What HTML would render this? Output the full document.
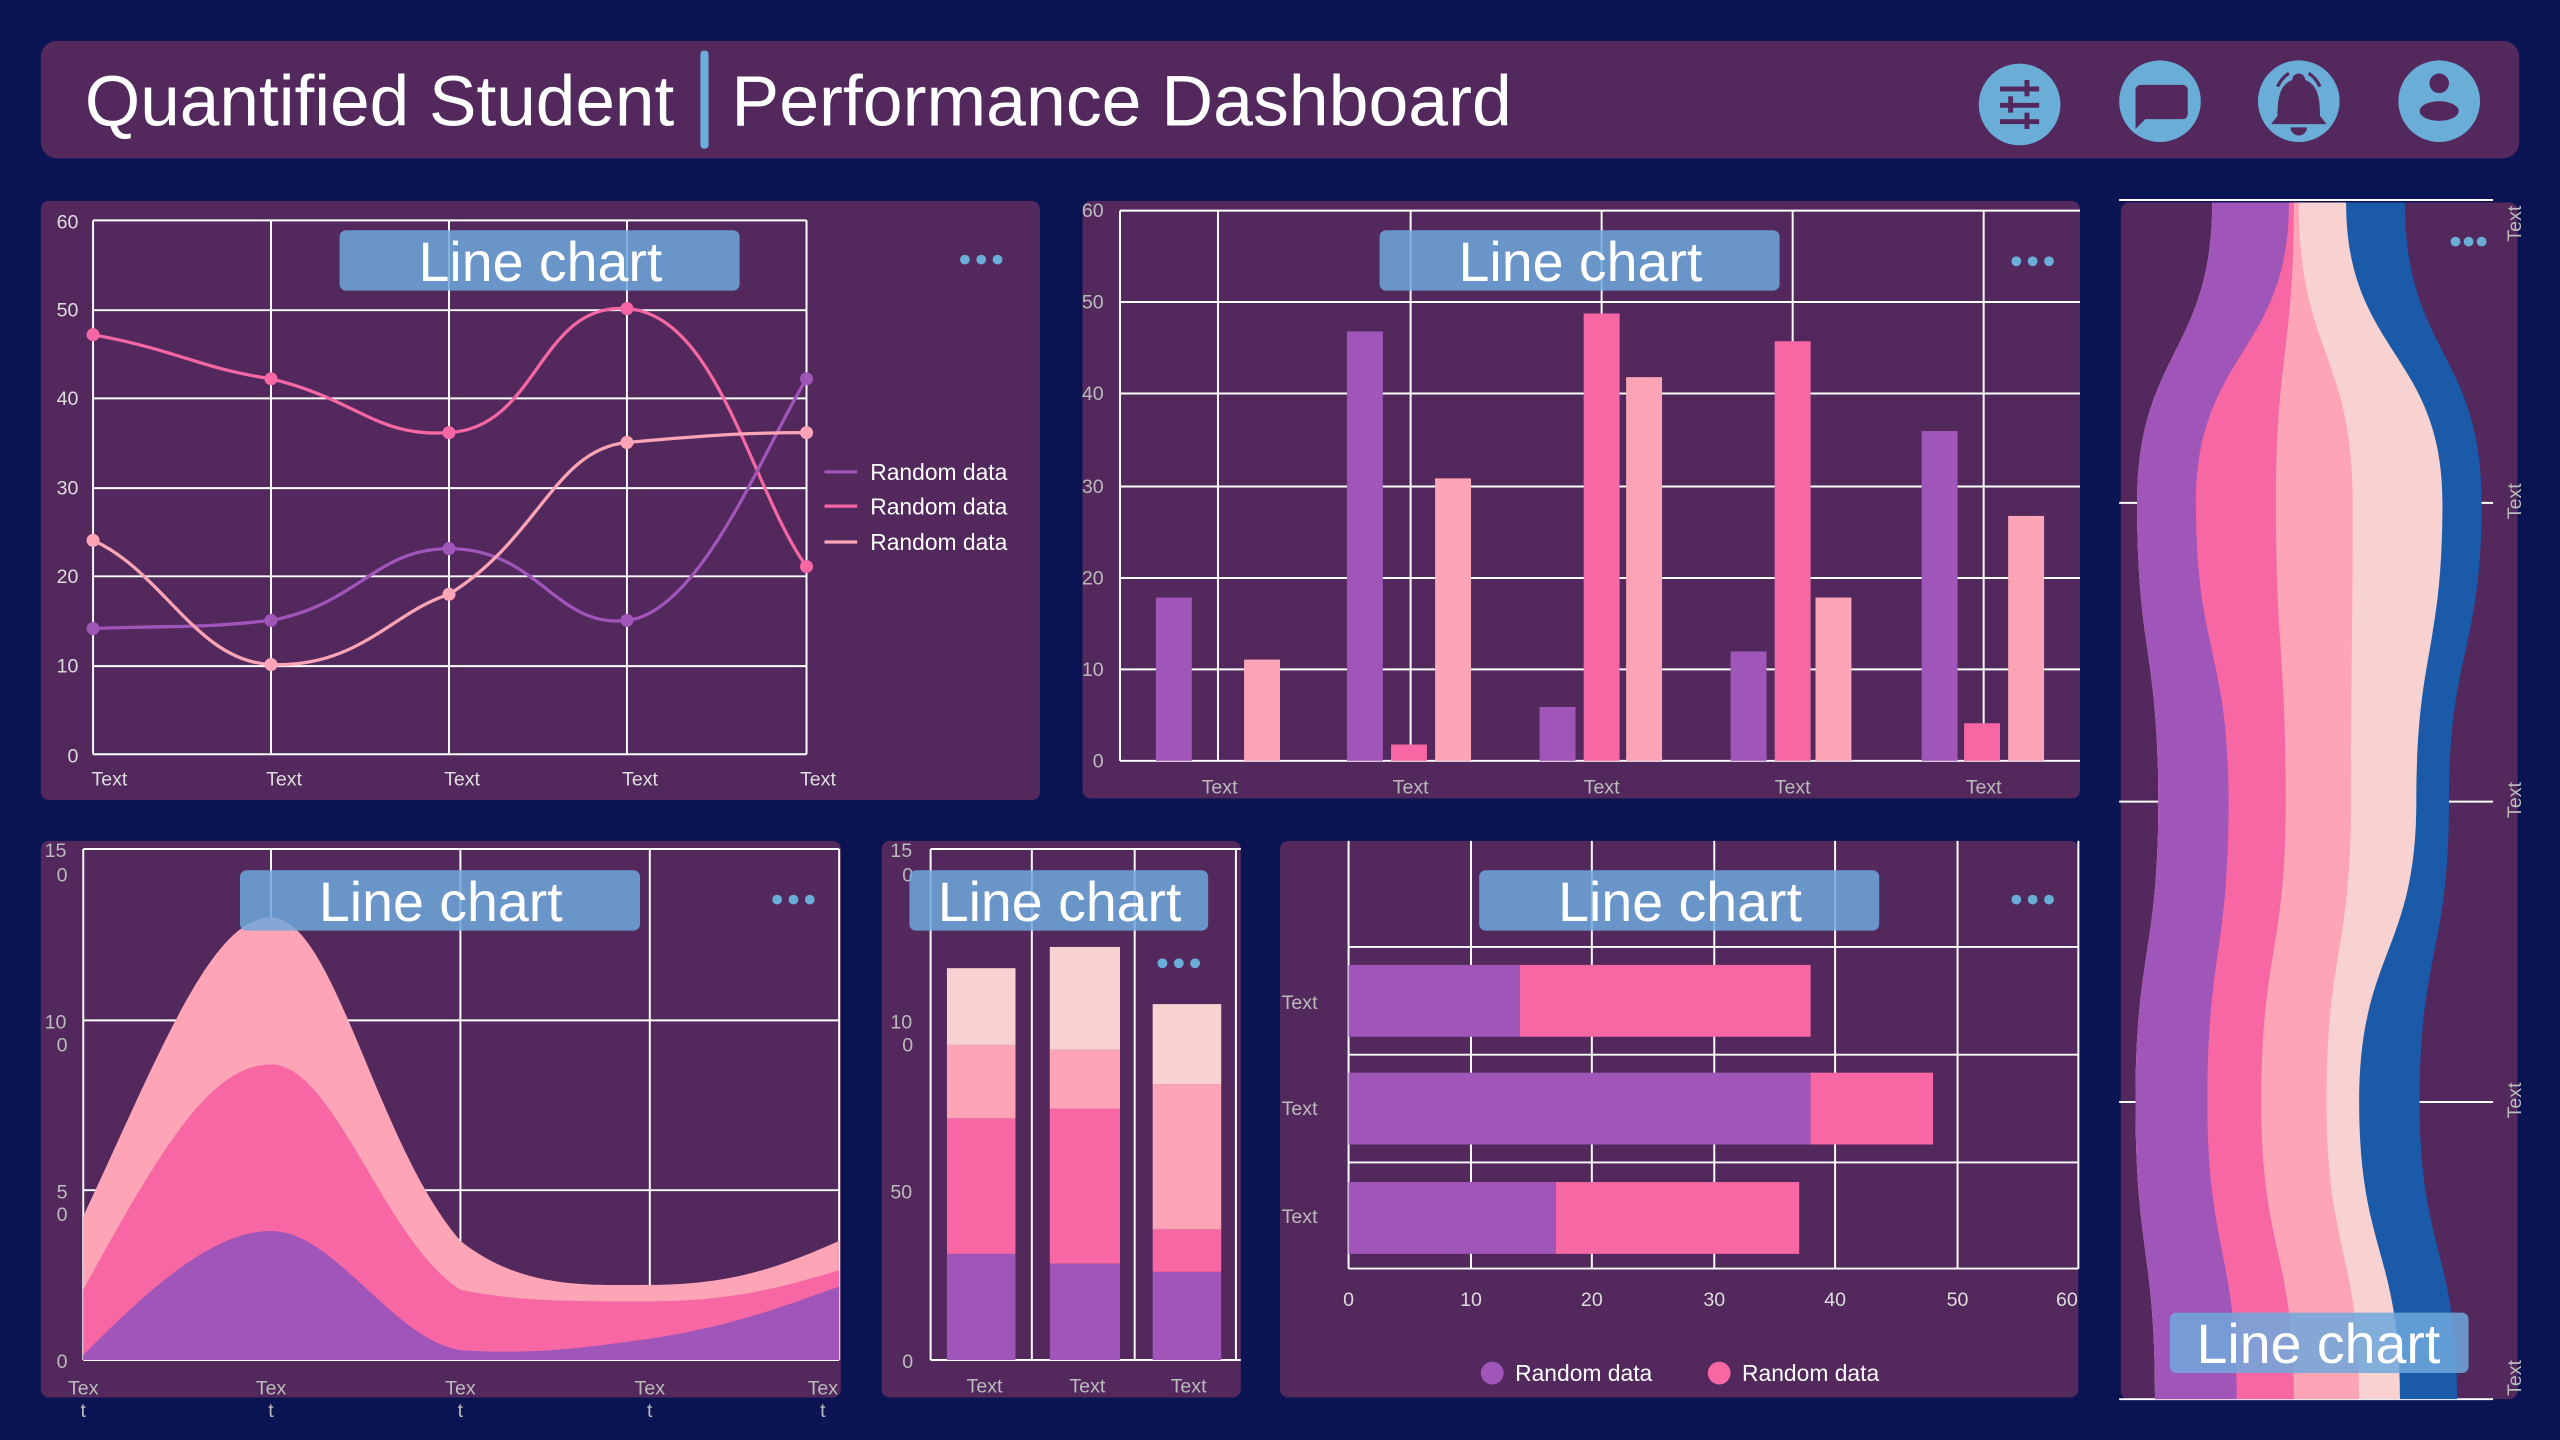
<!DOCTYPE html>
<html><head><meta charset="utf-8"><style>
html,body{margin:0;padding:0;background:#0b1452;}
svg{display:block;}
text{font-family:"Liberation Sans",sans-serif;}
</style></head><body>
<svg width="2560" height="1440" viewBox="0 0 1568 882" xmlns="http://www.w3.org/2000/svg">
<rect width="1568" height="882" fill="#0b1452"/>
<!-- header -->
<rect x="25" y="25" width="1518" height="72" rx="10" fill="#52285d"/>
<text x="52" y="77" font-size="44" fill="#fff" textLength="361" lengthAdjust="spacingAndGlyphs">Quantified Student</text>
<rect x="429" y="31" width="5" height="60" rx="2" fill="#6aaed8"/>
<text x="448" y="77" font-size="44" fill="#fff" textLength="478" lengthAdjust="spacingAndGlyphs">Performance Dashboard</text>
<g fill="#6aaed8">
<circle cx="1237" cy="64" r="25"/><circle cx="1323" cy="62" r="25"/><circle cx="1408" cy="62" r="25"/><circle cx="1494" cy="62" r="25"/>
</g>
<g fill="#52285d">
<rect x="1225" y="53" width="24" height="3"/><rect x="1225" y="63" width="24" height="3"/><rect x="1225" y="73" width="24" height="3"/>
<rect x="1240" y="49" width="3" height="10"/><rect x="1230" y="59" width="3" height="10"/><rect x="1240" y="69" width="3" height="10"/>
<path d="M1309,52 h28 a3,3 0 0 1 3,3 v15 a3,3 0 0 1 -3,3 h-23 l-6,6 v-24 a3,3 0 0 1 3,-3z" />
<path d="M1404,49 a4,4 0 0 1 8,0 c8,3 9,12 9,22 l4,5 h-34 l4,-5 c0,-10 1,-19 9,-22z"/>
<path d="M1403,78 h10 a5,5 0 0 1 -10,0z"/>
<circle cx="1494" cy="51" r="6"/>
<ellipse cx="1494" cy="68" rx="12" ry="6"/>
</g>
<path d="M1395,53 q3,-6 7,-8 M1421,53 q-3,-6 -7,-8" stroke="#52285d" stroke-width="2" fill="none"/>

<!-- Panel 1 -->
<rect x="25" y="123" width="612" height="367" rx="5" fill="#52285d"/>
<g stroke="#fff" stroke-width="1.2" fill="none">
<path d="M57,135H494M57,190H494M57,244H494M57,299H494M57,353H494M57,408H494M57,462H494"/>
<path d="M57,135V462M166,135V462M275,135V462M384,135V462M494,135V462"/>
</g>
<g font-size="12" fill="#ddd" text-anchor="end">
<text x="48" y="140">60</text><text x="48" y="194">50</text><text x="48" y="248">40</text><text x="48" y="303">30</text><text x="48" y="357">20</text><text x="48" y="412">10</text><text x="48" y="467">0</text>
</g>
<g font-size="12" fill="#ddd" text-anchor="middle">
<text x="67" y="481">Text</text><text x="174" y="481">Text</text><text x="283" y="481">Text</text><text x="392" y="481">Text</text><text x="501" y="481">Text</text>
</g>
<g fill="none" stroke-width="2">
<path stroke="#f667a4" d="M57,205 C111,215 120,225 166,232 C220,245 230,268 275,265 C330,262 330,185 384,189 C440,193 460,300 494,347"/>
<path stroke="#a055b8" d="M57,385 C111,383 120,385 166,380 C220,370 230,336 275,336 C330,336 340,385 384,380 C430,375 470,270 494,232"/>
<path stroke="#fda4b6" d="M57,331 C100,350 120,405 166,407 C220,409 240,375 275,364 C330,330 340,275 384,271 C440,266 460,265 494,265"/>
</g>
<g fill="#f667a4"><circle cx="57" cy="205" r="4"/><circle cx="166" cy="232" r="4"/><circle cx="275" cy="265" r="4"/><circle cx="384" cy="189" r="4"/><circle cx="494" cy="347" r="4"/></g>
<g fill="#a055b8"><circle cx="57" cy="385" r="4"/><circle cx="166" cy="380" r="4"/><circle cx="275" cy="336" r="4"/><circle cx="384" cy="380" r="4"/><circle cx="494" cy="232" r="4"/></g>
<g fill="#fda4b6"><circle cx="57" cy="331" r="4"/><circle cx="166" cy="407" r="4"/><circle cx="275" cy="364" r="4"/><circle cx="384" cy="271" r="4"/><circle cx="494" cy="265" r="4"/></g>
<g stroke-width="2"><path d="M505,289h20" stroke="#a055b8"/><path d="M505,310h20" stroke="#f667a4"/><path d="M505,332h20" stroke="#fda4b6"/></g>
<g font-size="14" fill="#fff"><text x="533" y="294">Random data</text><text x="533" y="315">Random data</text><text x="533" y="337">Random data</text></g>
<rect x="208" y="141" width="245" height="37" rx="4" fill="#6fa8dc" fill-opacity="0.85"/>
<text x="331" y="172" font-size="34" fill="#fff" text-anchor="middle">Line chart</text>
<g fill="#6aaed8"><circle cx="591" cy="159" r="3"/><circle cx="601" cy="159" r="3"/><circle cx="611" cy="159" r="3"/></g>

<!-- Panel 2 -->
<rect x="663" y="123" width="611" height="366" rx="5" fill="#52285d"/>
<g stroke="#fff" stroke-width="1.2" fill="none">
<path d="M686,129H1274M686,185H1274M686,241H1274M686,298H1274M686,354H1274M686,410H1274M686,466H1274"/>
<path d="M686,129V466M746,129V466M864,129V466M981,129V466M1098,129V466M1215,129V466"/>
</g>
<g font-size="12" fill="#bbb" text-anchor="end">
<text x="676" y="133">60</text><text x="676" y="189">50</text><text x="676" y="245">40</text><text x="676" y="302">30</text><text x="676" y="358">20</text><text x="676" y="414">10</text><text x="676" y="470">0</text>
</g>
<g font-size="12" fill="#bbb" text-anchor="middle">
<text x="747" y="486">Text</text><text x="864" y="486">Text</text><text x="981" y="486">Text</text><text x="1098" y="486">Text</text><text x="1215" y="486">Text</text>
</g>
<g fill="#a055b8"><rect x="708" y="366" width="22" height="100"/><rect x="825" y="203" width="22" height="263"/><rect x="943" y="433" width="22" height="33"/><rect x="1060" y="399" width="22" height="67"/><rect x="1177" y="264" width="22" height="202"/></g>
<g fill="#f667a4"><rect x="852" y="456" width="22" height="10"/><rect x="970" y="192" width="22" height="274"/><rect x="1087" y="209" width="22" height="257"/><rect x="1203" y="443" width="22" height="23"/></g>
<g fill="#fda4b6"><rect x="762" y="404" width="22" height="62"/><rect x="879" y="293" width="22" height="173"/><rect x="996" y="231" width="22" height="235"/><rect x="1112" y="366" width="22" height="100"/><rect x="1230" y="316" width="22" height="150"/></g>
<rect x="845" y="141" width="245" height="37" rx="4" fill="#6fa8dc" fill-opacity="0.85"/>
<text x="968" y="172" font-size="34" fill="#fff" text-anchor="middle">Line chart</text>
<g fill="#6aaed8"><circle cx="1235" cy="160" r="3"/><circle cx="1245" cy="160" r="3"/><circle cx="1255" cy="160" r="3"/></g>

<!-- Panel 3 -->
<rect x="25" y="515" width="490" height="341" rx="5" fill="#52285d"/>
<g stroke="#fff" stroke-width="1.2" fill="none">
<path d="M51,520H514M51,625H514M51,729H514M51,833H514"/>
<path d="M51,520V833M166,520V833M282,520V833M398,520V833M514,520V833"/>
</g>
<path fill="#fda4b6" d="M51,833 L51,745 C100,640 130,562 166,562 C205,562 230,700 282,760 C320,790 360,787 398,787 C450,787 480,775 514,760 L514,833Z"/>
<path fill="#f667a4" d="M51,833 L51,790 C100,700 130,652 166,652 C205,652 235,760 282,790 C320,798 360,797 398,797 C450,797 480,788 514,778 L514,833Z"/>
<path fill="#a055b8" d="M51,833 L51,830 C100,780 135,754 166,754 C205,754 240,820 282,827 C330,830 360,825 398,820 C450,812 480,800 514,788 L514,833Z"/>
<g font-size="12" fill="#bbb" text-anchor="middle">
<text x="34" y="525">15</text><text x="38" y="540">0</text><text x="34" y="630">10</text><text x="38" y="644">0</text><text x="38" y="734">5</text><text x="38" y="748">0</text><text x="38" y="838">0</text>
<text x="51" y="854">Tex</text><text x="51" y="868">t</text><text x="166" y="854">Tex</text><text x="166" y="868">t</text><text x="282" y="854">Tex</text><text x="282" y="868">t</text><text x="398" y="854">Tex</text><text x="398" y="868">t</text><text x="504" y="854">Tex</text><text x="504" y="868">t</text>
</g>
<rect x="147" y="533" width="245" height="37" rx="4" fill="#6fa8dc" fill-opacity="0.85"/>
<text x="270" y="564" font-size="34" fill="#fff" text-anchor="middle">Line chart</text>
<g fill="#6aaed8"><circle cx="476" cy="551" r="3"/><circle cx="486" cy="551" r="3"/><circle cx="496" cy="551" r="3"/></g>

<!-- Panel 4 -->
<rect x="540" y="515" width="220" height="341" rx="5" fill="#52285d"/>
<g stroke="#fff" stroke-width="1.2" fill="none">
<path d="M570,520H760M570,833H760"/>
<path d="M570,520V833M632,520V833M695,520V833M757,520V833"/>
</g>
<g fill="#a055b8"><rect x="580" y="768" width="42" height="65"/><rect x="643" y="774" width="43" height="59"/><rect x="706" y="779" width="42" height="54"/></g>
<g fill="#f667a4"><rect x="580" y="685" width="42" height="83"/><rect x="643" y="679" width="43" height="95"/><rect x="706" y="753" width="42" height="26"/></g>
<g fill="#fda4b6"><rect x="580" y="640" width="42" height="45"/><rect x="643" y="643" width="43" height="36"/><rect x="706" y="664" width="42" height="89"/></g>
<g fill="#f8d1d1"><rect x="580" y="593" width="42" height="47"/><rect x="643" y="580" width="43" height="63"/><rect x="706" y="615" width="42" height="49"/></g>
<g font-size="12" fill="#bbb" text-anchor="middle">
<text x="552" y="525">15</text><text x="556" y="540">0</text><text x="552" y="630">10</text><text x="556" y="644">0</text><text x="552" y="734">50</text><text x="556" y="838">0</text>
<text x="603" y="853">Text</text><text x="666" y="853">Text</text><text x="728" y="853">Text</text>
</g>
<rect x="557" y="533" width="183" height="37" rx="4" fill="#6fa8dc" fill-opacity="0.85"/>
<text x="649" y="564" font-size="34" fill="#fff" text-anchor="middle">Line chart</text>
<g fill="#6aaed8"><circle cx="712" cy="590" r="3"/><circle cx="722" cy="590" r="3"/><circle cx="732" cy="590" r="3"/></g>

<!-- Panel 5 -->
<rect x="784" y="515" width="489" height="341" rx="5" fill="#52285d"/>
<g stroke="#fff" stroke-width="1.2" fill="none">
<path d="M826,580H1273M826,646H1273M826,712H1273M826,777H1273"/>
<path d="M826,515V777M901,515V777M975,515V777M1050,515V777M1124,515V777M1199,515V777M1273,515V777"/>
</g>
<g fill="#a055b8"><rect x="826" y="591" width="105" height="44"/><rect x="826" y="657" width="283" height="44"/><rect x="826" y="724" width="127" height="44"/></g>
<g fill="#f667a4"><rect x="931" y="591" width="178" height="44"/><rect x="1109" y="657" width="75" height="44"/><rect x="953" y="724" width="149" height="44"/></g>
<g font-size="12" fill="#bbb">
<text x="785" y="618">Text</text><text x="785" y="683">Text</text><text x="785" y="749">Text</text>
</g>
<g font-size="12" fill="#ddd" text-anchor="middle">
<text x="826" y="800">0</text><text x="901" y="800">10</text><text x="975" y="800">20</text><text x="1050" y="800">30</text><text x="1124" y="800">40</text><text x="1199" y="800">50</text><text x="1266" y="800">60</text>
</g>
<circle cx="914" cy="841" r="7" fill="#a055b8"/><text x="928" y="846" font-size="14" fill="#fff">Random data</text>
<circle cx="1053" cy="841" r="7" fill="#f667a4"/><text x="1067" y="846" font-size="14" fill="#fff">Random data</text>
<rect x="906" y="533" width="245" height="37" rx="4" fill="#6fa8dc" fill-opacity="0.85"/>
<text x="1029" y="564" font-size="34" fill="#fff" text-anchor="middle">Line chart</text>
<g fill="#6aaed8"><circle cx="1235" cy="551" r="3"/><circle cx="1245" cy="551" r="3"/><circle cx="1255" cy="551" r="3"/></g>

<!-- Panel 6 stream -->
<rect x="1299" y="124" width="243" height="733" rx="5" fill="#52285d"/>
<g stroke="#fff" stroke-width="1.2"><path d="M1298,122.5H1527M1298,308H1527M1298,491H1527M1298,675H1527M1298,857H1527"/></g>
<path fill="#1a5aa8" d="M1355,124 C1355,216 1309,216 1309,308 C1309,399 1322,399 1322,491 C1322,583 1308,583 1308,675 C1308,766 1320,766 1320,857 L1505,857 C1505,766 1482,766 1482,675 C1482,583 1500,583 1500,491 C1500,399 1520,399 1520,308 C1520,216 1473,216 1473,124Z"/>
<path fill="#f8d1d1" d="M1355,124 C1355,216 1309,216 1309,308 C1309,399 1322,399 1322,491 C1322,583 1308,583 1308,675 C1308,766 1320,766 1320,857 L1470,857 C1470,766 1445,766 1445,675 C1445,583 1480,583 1480,491 C1480,399 1496,399 1496,308 C1496,216 1437,216 1437,124Z"/>
<path fill="#fda4b6" d="M1355,124 C1355,216 1309,216 1309,308 C1309,399 1322,399 1322,491 C1322,583 1308,583 1308,675 C1308,766 1320,766 1320,857 L1445,857 C1445,766 1425,766 1425,675 C1425,583 1440,583 1440,491 C1440,399 1441,399 1441,308 C1441,216 1408,216 1408,124Z"/>
<path fill="#f667a4" d="M1355,124 C1355,216 1309,216 1309,308 C1309,399 1322,399 1322,491 C1322,583 1308,583 1308,675 C1308,766 1320,766 1320,857 L1405,857 C1405,766 1385,766 1385,675 C1385,583 1400,583 1400,491 C1400,399 1394,399 1394,308 C1394,216 1405,216 1405,124Z"/>
<path fill="#a055b8" d="M1355,124 C1355,216 1309,216 1309,308 C1309,399 1322,399 1322,491 C1322,583 1308,583 1308,675 C1308,766 1320,766 1320,857 L1370,857 C1370,766 1352,766 1352,675 C1352,583 1365,583 1365,491 C1365,399 1345,399 1345,308 C1345,216 1402,216 1402,124Z"/>
<g font-size="12" fill="#bbb">
<text transform="translate(1544,148) rotate(-90)">Text</text>
<text transform="translate(1544,318) rotate(-90)">Text</text>
<text transform="translate(1544,501) rotate(-90)">Text</text>
<text transform="translate(1544,685) rotate(-90)">Text</text>
<text transform="translate(1544,855) rotate(-90)">Text</text>
</g>
<g fill="#6aaed8"><circle cx="1504" cy="148" r="3"/><circle cx="1512" cy="148" r="3"/><circle cx="1520" cy="148" r="3"/></g>
<rect x="1329" y="804" width="183" height="37" rx="4" fill="#6fa8dc" fill-opacity="0.85"/>
<text x="1420" y="835" font-size="34" fill="#fff" text-anchor="middle">Line chart</text>
</svg>
</body></html>
